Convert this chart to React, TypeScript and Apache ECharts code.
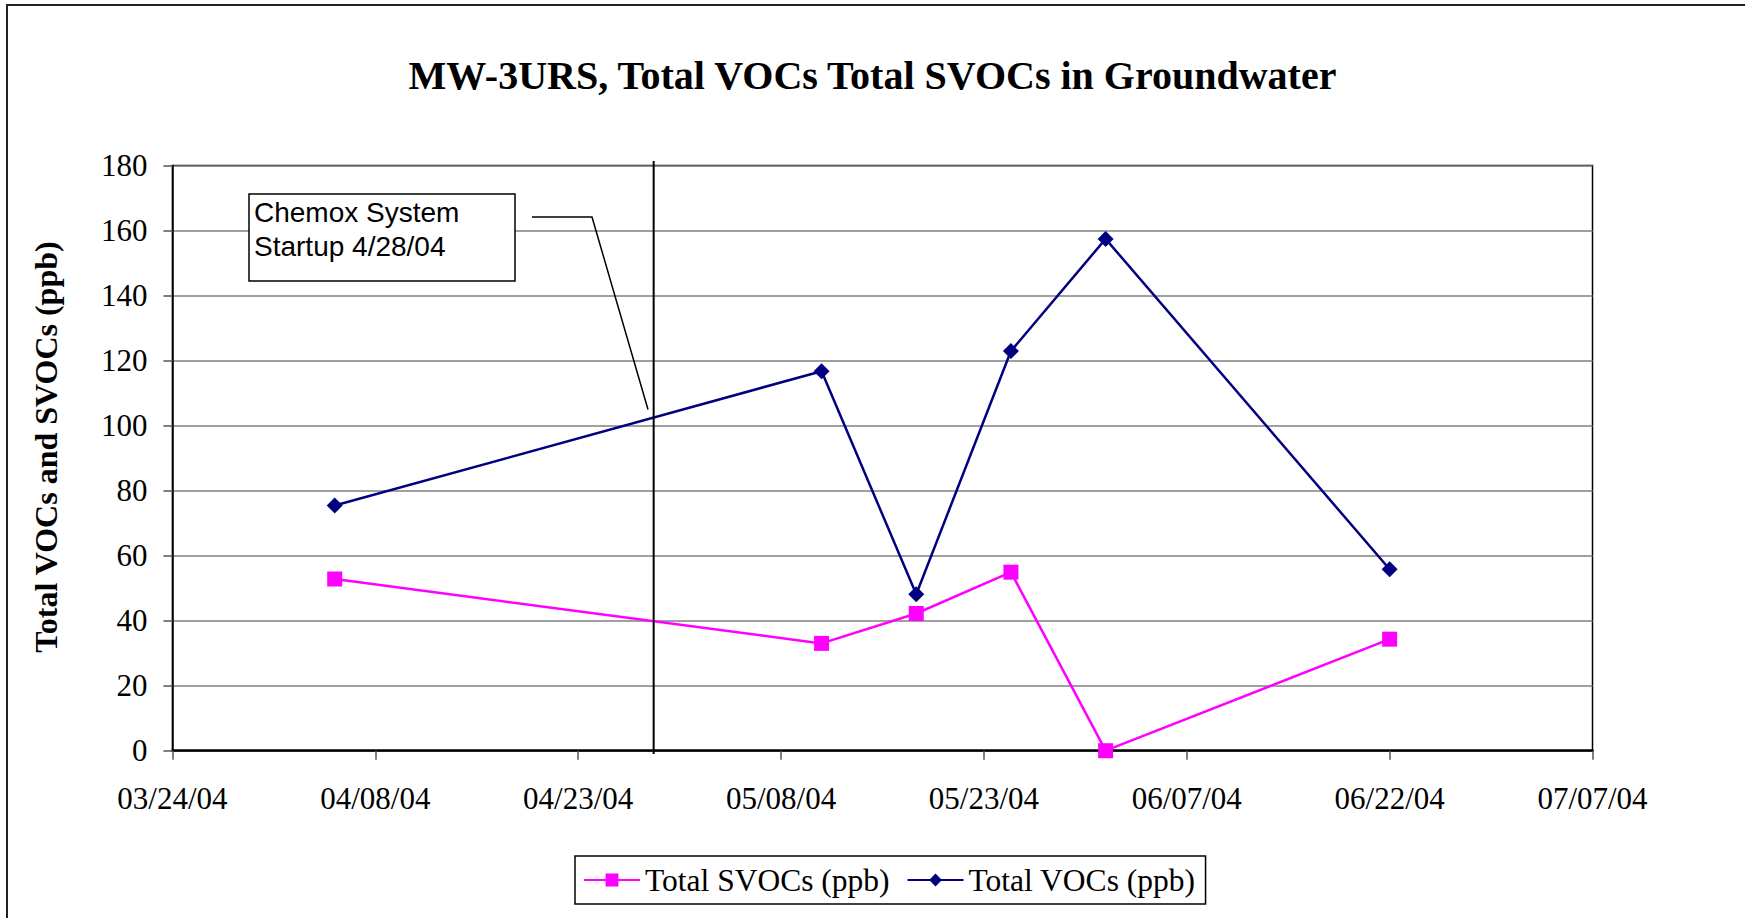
import React, { useEffect, useRef } from "react";
import * as echarts from "echarts";

// ---- data ----
const X_START = "2004-03-24";
const X_END = "2004-07-07";
const X_STEP_DAYS = 15;
const sampleDates = ["2004-04-05", "2004-05-11", "2004-05-18", "2004-05-25", "2004-06-01", "2004-06-22"];
const svocValues = [52.8, 33.0, 42.2, 54.9, 0, 34.3];
const vocValues = [75.4, 116.7, 48.1, 122.9, 157.4, 55.8];
const Y_MIN = 0;
const Y_MAX = 180;
const Y_STEP = 20;
const STARTUP_LINE = "2004-04-28T14:00:00Z";
const TITLE = "MW-3URS, Total VOCs Total SVOCs in Groundwater";
const Y_NAME = "Total VOCs and SVOCs (ppb)";
const SVOC_NAME = "Total SVOCs (ppb)";
const VOC_NAME = "Total VOCs (ppb)";
const NOTE = "Chemox System\nStartup 4/28/04";

const DAY = 86400000;
const startMs = Date.parse(X_START);
const dayOffset = (d: string) => (Date.parse(d) - startMs) / DAY;
const pad = (n: number) => (n < 10 ? "0" + n : "" + n);
const fmtDay = (v: number) => {
  const d = new Date(startMs + Math.round(v) * DAY);
  return pad(d.getUTCMonth() + 1) + "/" + pad(d.getUTCDate()) + "/" + pad(d.getUTCFullYear() % 100);
};

const SERIF = "'Liberation Serif', 'Times New Roman', serif";
const SANS = "'Liberation Sans', Arial, sans-serif";

export default function App() {
  const ref = useRef<HTMLDivElement>(null);
  useEffect(() => {
    if (!ref.current) return;
    const chart = echarts.init(ref.current, undefined, { renderer: "svg" });
    const svocData = sampleDates.map((d, i) => [dayOffset(d), svocValues[i]]);
    const vocData = sampleDates.map((d, i) => [dayOffset(d), vocValues[i]]);
    chart.setOption({
      animation: false,
      backgroundColor: "#ffffff",
      title: {
        text: TITLE,
        left: "center",
        top: 50,
        textStyle: { fontFamily: SERIF, fontWeight: "bold", fontSize: 40, color: "#000" },
      },
      grid: {
        left: 172.4,
        right: 152.5,
        top: 165.4,
        bottom: 167.3,
        containLabel: false,
        show: true,
        borderColor: "#000",
        borderWidth: 1.5,
      },
      legend: {
        left: 575,
        top: 856,
        orient: "horizontal",
        padding: [8, 10, 8, 8],
        itemGap: 17,
        itemWidth: 56,
        itemHeight: 16,
        borderColor: "#000",
        borderWidth: 1.5,
        backgroundColor: "#fff",
        textStyle: { fontFamily: SERIF, fontSize: 31.5, color: "#000" },
        data: [SVOC_NAME, VOC_NAME],
      },
      xAxis: {
        type: "value",
        min: 0,
        max: dayOffset(X_END),
        interval: X_STEP_DAYS,
        axisLine: { show: true, lineStyle: { color: "#000", width: 2.5 } },
        axisTick: { show: true, length: 9, lineStyle: { color: "#555", width: 1.5 } },
        splitLine: { show: false },
        axisLabel: {
          formatter: fmtDay,
          margin: 32,
          fontFamily: SERIF,
          fontSize: 31,
          color: "#000",
        },
      },
      yAxis: {
        type: "value",
        min: Y_MIN,
        max: Y_MAX,
        interval: Y_STEP,
        axisLine: { show: true, lineStyle: { color: "#000", width: 1.5 } },
        axisTick: { show: true, length: 9, lineStyle: { color: "#555", width: 1.5 } },
        splitLine: { show: true, lineStyle: { color: "#808080", width: 1.5 } },
        axisLabel: { margin: 25, fontFamily: SERIF, fontSize: 31, color: "#000" },
      },
      series: [
        {
          name: SVOC_NAME,
          type: "line",
          data: svocData,
          symbol: "rect",
          symbolSize: 15,
          lineStyle: { color: "#ff00ff", width: 2.5 },
          itemStyle: { color: "#ff00ff" },
          z: 3,
        },
        {
          name: VOC_NAME,
          type: "line",
          data: vocData,
          symbol: "diamond",
          symbolSize: 16,
          lineStyle: { color: "#000080", width: 2.5 },
          itemStyle: { color: "#000080" },
          z: 4,
        },
      ],
    });

    const lineX = chart.convertToPixel({ xAxisIndex: 0 }, dayOffset(STARTUP_LINE)) as number;
    chart.setOption({
      graphic: [
        {
          type: "rect",
          z: 0,
          silent: true,
          shape: { x: 7, y: 5, width: 1780, height: 960 },
          style: { fill: "none", stroke: "#222", lineWidth: 2 },
        },
        {
          type: "line",
          z: 100,
          shape: { x1: lineX, y1: 161, x2: lineX, y2: 754 },
          style: { stroke: "#000", lineWidth: 2 },
        },
        {
          type: "polyline",
          z: 100,
          shape: { points: [[532, 217], [592, 217], [648, 409.5]] },
          style: { stroke: "#000", lineWidth: 1.5, fill: "none" },
        },
        {
          type: "rect",
          z: 100,
          shape: { x: 249, y: 194, width: 266, height: 87 },
          style: { fill: "#fff", stroke: "#000", lineWidth: 1.5 },
        },
        {
          type: "text",
          z: 101,
          x: 254,
          y: 196,
          style: {
            text: NOTE,
            fontFamily: SANS,
            fontSize: 28,
            lineHeight: 33.5,
            fill: "#000",
            verticalAlign: "top",
            align: "left",
          },
        },
        {
          type: "text",
          z: 101,
          x: 46,
          y: 447,
          rotation: Math.PI / 2,
          style: {
            text: Y_NAME,
            fontFamily: SERIF,
            fontWeight: "bold",
            fontSize: 32,
            fill: "#000",
            align: "center",
            verticalAlign: "middle",
          },
        },
      ],
    });

    return () => chart.dispose();
  }, []);
  return (
    <div
      ref={ref}
      style={{ position: "fixed", left: 0, top: 0, width: 1745, height: 918, background: "#fff" }}
    />
  );
}
